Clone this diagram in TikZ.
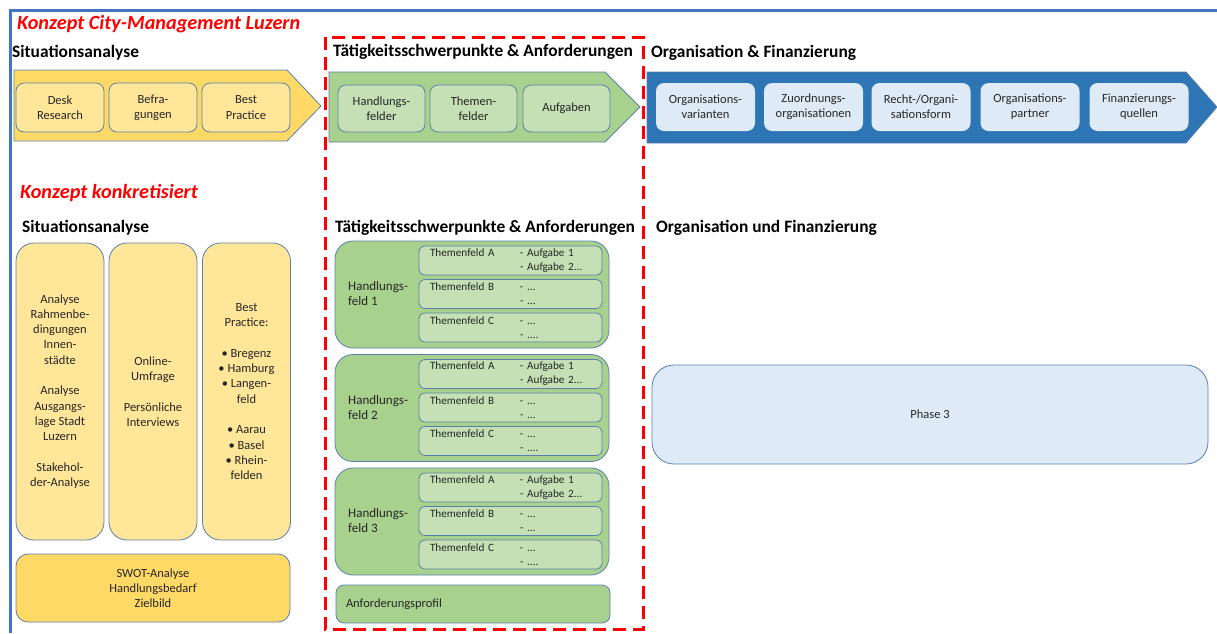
\documentclass[tikz,border=0pt]{standalone}
\usepackage{fontspec}
\setmainfont{Carlito}
\usepackage{tikz}
\definecolor{gelb}{HTML}{FFD966}
\definecolor{hellgelb}{HTML}{FFE699}
\definecolor{gruen}{HTML}{A9D18E}
\definecolor{hellgruen}{HTML}{C5E0B4}
\definecolor{blau}{HTML}{2E75B6}
\definecolor{hellblau}{HTML}{DEEBF7}
\definecolor{rand}{HTML}{5A80AD}
\definecolor{rahmenblau}{HTML}{4472C4}
\definecolor{schrift}{HTML}{262626}

\begin{document}
\begin{tikzpicture}[x=1pt, y=-1pt, every node/.style={text=schrift, font=\fontsize{12.5}{15.3}\selectfont},
	kasten/.style={draw=rand, line width=0.8pt, rounded corners=8pt, align=center, inner sep=0pt},
	titel/.style={anchor=west, inner sep=0pt, font=\fontsize{17.4}{20}\selectfont\bfseries, text=black},
	konzept/.style={anchor=west, inner sep=0pt, font=\fontsize{20.2}{22}\selectfont\bfseries\itshape, text=red},
	pfeil/.style={draw=rand, line width=0.8pt},
	hf/.style={kasten, fill=gruen, rounded corners=18pt, minimum width=274pt, minimum height=107pt},
	tf/.style={kasten, fill=hellgruen, rounded corners=6pt, minimum width=183pt, minimum height=29pt, text width=161pt, inner xsep=11pt, align=left, font=\fontsize{11.2}{14}\selectfont},]
\useasboundingbox (0,0) rectangle (1217,633);
\draw[rahmenblau, line width=3pt] (10,633) -- (10,10) -- (1217,10);
\draw[red, line width=3pt, dash pattern=on 13pt off 7pt] (325,37) rectangle (643,629);

% Konzept City-Management
\node[konzept] (k1) at (17,24) {Konzept City-Management Luzern};
\node[titel] (sa1) at (12,53) {Situationsanalyse};
\node[titel] (ta1) at (333,52) {Tätigkeitsschwerpunkte \& Anforderungen};
\node[titel] (of1) at (651,53) {Organisation \& Finanzierung};

\draw[pfeil, fill=gelb] (14,70) -- (287,70) -- (321,106) -- (287,141) -- (14,141) -- cycle;
\draw[pfeil, fill=gruen] (329,72) -- (605,72) -- (640,107) -- (605,142) -- (329,142) -- cycle;
\draw[pfeil, fill=blau] (647,72) -- (1186,72) -- (1217,107) -- (1186,143) -- (647,143) -- cycle;

\node[kasten, fill=hellgelb, minimum width=88pt, minimum height=49pt] (desk) at (60,107.5) {Desk\\Research};
\node[kasten, fill=hellgelb, minimum width=88pt, minimum height=49pt] (befr) at (153,107.5) {Befra-\\gungen};
\node[kasten, fill=hellgelb, minimum width=88pt, minimum height=49pt] (best) at (246,107.5) {Best\\Practice};

\node[kasten, fill=hellgruen, minimum width=87pt, minimum height=47pt] (hfeld) at (381.5,108.5) {Handlungs-\\felder};
\node[kasten, fill=hellgruen, minimum width=87pt, minimum height=47pt] (tfeld) at (473.5,108.5) {Themen-\\felder};
\node[kasten, fill=hellgruen, minimum width=87pt, minimum height=47pt] (aufg) at (566.5,108.5) {Aufgaben};

\node[kasten, fill=hellblau, draw=none, minimum width=99pt, minimum height=48pt] (orgvar) at (705.5,107) {Organisations-\\varianten};
\node[kasten, fill=hellblau, draw=none, minimum width=99pt, minimum height=48pt] (zuord) at (813.5,107) {Zuordnungs-\\organisationen};
\node[kasten, fill=hellblau, draw=none, minimum width=99pt, minimum height=48pt] (recht) at (921,107) {Recht-/Organi-\\sationsform};
\node[kasten, fill=hellblau, draw=none, minimum width=99pt, minimum height=48pt] (partner) at (1030,107) {Organisations-\\partner};
\node[kasten, fill=hellblau, draw=none, minimum width=99pt, minimum height=48pt] (quellen) at (1139,107) {Finanzierungs-\\quellen};

% Konzept konkretisiert
\node[konzept] (k2) at (20,193) {Konzept konkretisiert};
\node[titel] (sa2) at (22,228) {Situationsanalyse};
\node[titel] (ta2) at (335,228) {Tätigkeitsschwerpunkte \& Anforderungen};
\node[titel] (of2) at (656,228) {Organisation und Finanzierung};

\node[kasten, fill=hellgelb, rounded corners=18pt, minimum width=88pt, minimum height=297pt] (analyse) at (60,391.5)
	{Analyse\\Rahmenbe-\\dingungen\\Innen-\\städte\\[15.3pt]Analyse\\Ausgangs-\\lage Stadt\\Luzern\\[15.3pt]Stakehol-\\der-Analyse};
\node[kasten, fill=hellgelb, rounded corners=18pt, minimum width=88pt, minimum height=297pt] (umfrage) at (153,391.5)
	{Online-\\Umfrage\\[15.3pt]Persönliche\\Interviews};
\node[kasten, fill=hellgelb, rounded corners=18pt, minimum width=88pt, minimum height=297pt] (practice) at (246.5,391.5)
	{Best\\Practice:\\[15.3pt]\textbullet\ Bregenz\\\textbullet\ Hamburg\\\textbullet\ Langen-\\feld\\[15.3pt]\textbullet\ Aarau\\\textbullet\ Basel\\\textbullet\ Rhein-\\felden};
\node[kasten, fill=gelb, rounded corners=12pt, minimum width=274pt, minimum height=68pt] (swot) at (153,588)
	{SWOT-Analyse\\Handlungsbedarf\\Zielbild};

\foreach \n/\y in {1/241, 2/354.5, 3/468}{
	\node[hf] (hf\n) at (472,\y+53.5) {};
	\node[anchor=west, align=left, inner sep=0pt, font=\fontsize{13}{15}\selectfont] (hft\n) at (348,\y+53) {Handlungs-\\feld \n};
	\node[tf] (tfa\n) at (510.5,\y+19.5) {\makebox[90pt][l]{Themenfeld A}- Aufgabe 1\\\hspace*{90pt}- Aufgabe 2...};
	\node[tf] (tfb\n) at (510.5,\y+53) {\makebox[90pt][l]{Themenfeld B}- ...\\\hspace*{90pt}- ...};
	\node[tf] (tfc\n) at (510.5,\y+86.5) {\makebox[90pt][l]{Themenfeld C}- ...\\\hspace*{90pt}- ....};
}
\node[kasten, fill=gruen, minimum width=274pt, minimum height=38pt, text width=254pt, inner xsep=10pt, align=left] (profil) at (473,604) {Anforderungsprofil};

\node[kasten, fill=hellblau, rounded corners=22pt, minimum width=556pt, minimum height=99pt] (phase) at (930,414.5) {Phase 3};
\end{tikzpicture}
\end{document}
